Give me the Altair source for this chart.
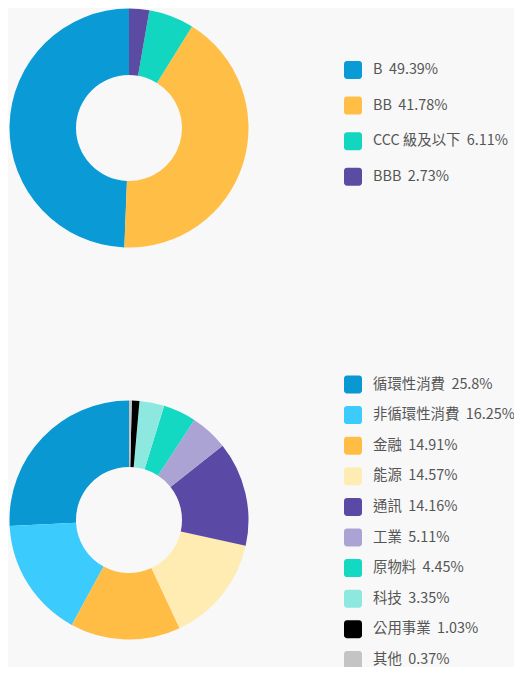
import altair as alt
import pandas as pd

# Top donut: credit rating
top_cats = ["B", "BB", "CCC 級及以下", "BBB"]
top_vals = [49.39, 41.78, 6.11, 2.73]
top_colors = ["#0a9bd6", "#ffbf47", "#12d6c0", "#5b4ba3"]

# Bottom donut: sector
bot_cats = ["循環性消費", "非循環性消費", "金融", "能源", "通訊", "工業", "原物料", "科技", "公用事業", "其他"]
bot_vals = [25.8, 16.25, 14.91, 14.57, 14.16, 5.11, 4.45, 3.35, 1.03, 0.37]
bot_colors = ["#0a98d3", "#3ccbfd", "#ffbd45", "#ffecb3", "#5b4aa5",
              "#aaa3d3", "#13d9c2", "#8de9df", "#000000", "#c4c4c4"]

SP = "\u00a0\u00a0"


def fmt(v):
    s = f"{v:.2f}".rstrip("0").rstrip(".")
    return s + "%"


top_df = pd.DataFrame({
    "cat": top_cats,
    "val": top_vals,
    "idx": list(range(len(top_cats))),
    "label": [c + SP + fmt(v) for c, v in zip(top_cats, top_vals)],
})
bot_df = pd.DataFrame({
    "cat": bot_cats,
    "val": bot_vals,
    "idx": list(range(len(bot_cats))),
    "label": [c + SP + fmt(v) for c, v in zip(bot_cats, bot_vals)],
})

ROUND_SQ = ("M-0.67,-1 L0.67,-1 A0.33,0.33 0 0 1 1,-0.67 L1,0.67 "
            "A0.33,0.33 0 0 1 0.67,1 L-0.67,1 A0.33,0.33 0 0 1 -1,0.67 "
            "L-1,-0.67 A0.33,0.33 0 0 1 -0.67,-1 Z")


def legend(x, y, row_pad):
    return alt.Legend(
        title=None, orient="none", legendX=x, legendY=y, padding=0,
        symbolType=ROUND_SQ, symbolSize=324, symbolStrokeWidth=0,
        symbolOpacity=1, labelFontSize=14.4, labelColor="#555555",
        labelFont="Noto Sans CJK TC", labelOffset=11, rowPadding=row_pad,
        labelLimit=300,
    )


top = alt.Chart(top_df).mark_arc(outerRadius=119.5, innerRadius=53).encode(
    theta=alt.Theta("val:Q", stack=True),
    order=alt.Order("idx:Q", sort="descending"),
    color=alt.Color("label:N",
                    scale=alt.Scale(domain=top_df["label"].tolist(), range=top_colors),
                    legend=legend(336, 53, 17.6)),
    x=alt.value(121),
    y=alt.value(120),
)

bot = alt.Chart(bot_df).mark_arc(outerRadius=119.5, innerRadius=53).encode(
    theta=alt.Theta("val:Q", stack=True),
    order=alt.Order("idx:Q", sort="descending"),
    color=alt.Color("label:N",
                    scale=alt.Scale(domain=bot_df["label"].tolist(), range=bot_colors),
                    legend=legend(336, 367.5, 12.6)),
    x=alt.value(121),
    y=alt.value(512),
)

chart = alt.layer(top, bot).resolve_scale(
    color="independent", theta="independent"
).properties(
    width=506, height=659, padding=0, background="#f8f8f8",
    autosize=alt.AutoSizeParams(type="none"),
).configure_view(stroke=None)

chart.save("out.html", embed_options={"renderer": "svg", "actions": False})
